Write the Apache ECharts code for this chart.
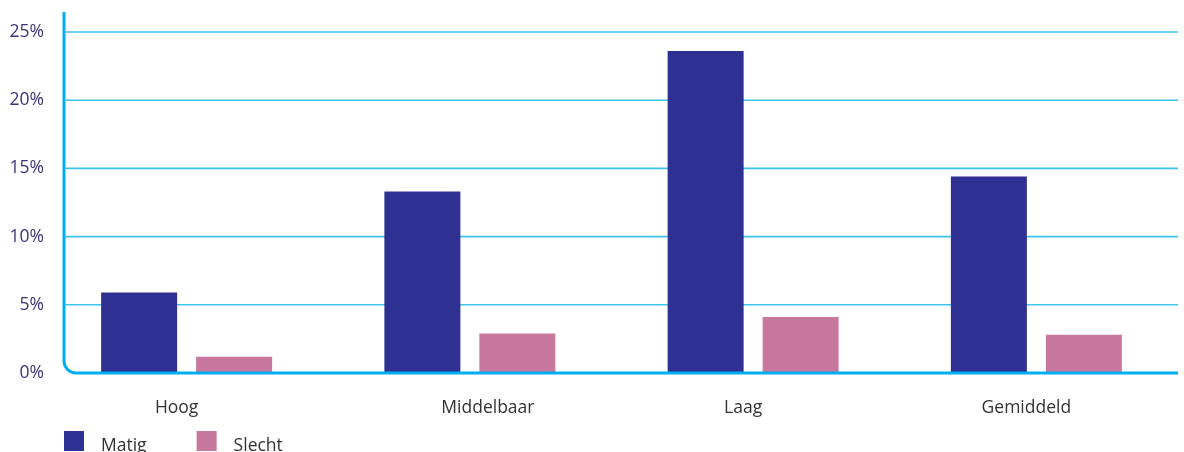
<!DOCTYPE html>
<html>
<head>
<meta charset="utf-8">
<script src="https://cdn.jsdelivr.net/npm/echarts@6/dist/echarts.min.js"></script>
<style>
html,body{margin:0;padding:0;background:#fff;}
#c{width:1184px;height:452px;}
</style>
</head>
<body>
<div id="c"></div>
<script>
const categories = ['Hoog', 'Middelbaar', 'Laag', 'Gemiddeld'];
const matig = [5.9, 13.3, 23.6, 14.4];
const slecht = [1.2, 2.9, 4.1, 2.8];
const yTicks = [0, 5, 10, 15, 20, 25];

const FONT = '"Open Sans", "Noto Sans", sans-serif';
const chart = echarts.init(document.getElementById('c'), null, {renderer: 'canvas'});
chart.setOption({
  animation: false,
  backgroundColor: '#fff',
  grid: {left: 45, right: 6, top: 32, bottom: 79, containLabel: false},
  legend: {
    left: 59, top: 426, itemWidth: 20, itemHeight: 20, itemGap: 50,
    icon: 'rect',
    formatter: n => '{t|' + n + '}',
    textStyle: {
      fontFamily: FONT, fontSize: 17.5, color: '#333',
      rich: {t: {fontFamily: FONT, fontSize: 17.5, color: '#333', padding: [10, 0, 0, 12]}}
    },
    data: ['Matig', 'Slecht']
  },
  xAxis: {
    type: 'category', data: categories,
    axisLine: {show: false}, axisTick: {show: false},
    axisLabel: {
      fontFamily: FONT, fontSize: 17.5, color: '#333', margin: 26,
      formatter: v => v === 'Middelbaar' ? '{r|' + v + '}' : '{l|' + v + '}',
      rich: {
        l: {fontFamily: FONT, fontSize: 17.5, color: '#333', padding: [0, 20, 0, 0]},
        r: {fontFamily: FONT, fontSize: 17.5, color: '#333', padding: [0, 0, 0, 36]}
      }
    }
  },
  yAxis: {
    type: 'value', min: 0, max: 25, interval: 5,
    axisLine: {show: false}, axisTick: {show: false}, splitLine: {show: false},
    axisLabel: {fontFamily: FONT, fontSize: 17.5, color: '#3f3178', margin: 1, formatter: '{value}%'}
  },
  series: [
    {name: 'Matig', type: 'bar', data: matig, barWidth: 76, barGap: '25%', itemStyle: {color: '#2e3192'}},
    {name: 'Slecht', type: 'bar', data: slecht, barWidth: 76, itemStyle: {color: '#c8779e'}}
  ]
});

const axisX = 64;
const rightX = 1178;
const graphics = [];
yTicks.slice(1).forEach(t => {
  const y = chart.convertToPixel({yAxisIndex: 0}, t);
  graphics.push({type: 'line', z: 0, shape: {x1: axisX, y1: y, x2: rightX, y2: y},
    style: {stroke: '#3cc3ee', lineWidth: 1.6}});
});
const y0 = chart.convertToPixel({yAxisIndex: 0}, 0);
const r = 12;
const axisStyle = {stroke: '#00aeef', lineWidth: 3, fill: null};
graphics.push({type: 'line', z: 10, shape: {x1: axisX, y1: 12, x2: axisX, y2: y0 - r}, style: axisStyle});
graphics.push({type: 'arc', z: 10, shape: {cx: axisX + r, cy: y0 - r, r: r, startAngle: Math.PI / 2, endAngle: Math.PI, clockwise: true}, style: axisStyle});
graphics.push({type: 'line', z: 10, shape: {x1: axisX + r, y1: y0, x2: rightX, y2: y0}, style: axisStyle});
chart.setOption({graphic: graphics});
</script>
</body>
</html>
